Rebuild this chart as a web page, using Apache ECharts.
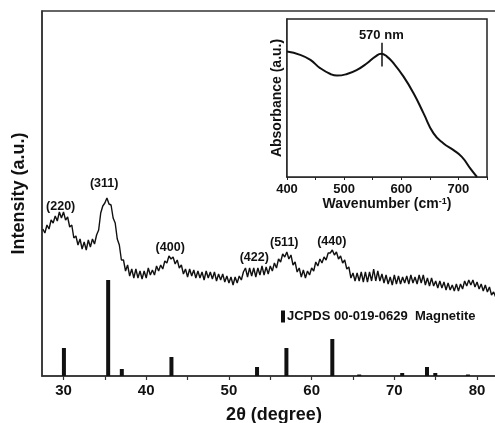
<!DOCTYPE html>
<html>
<head>
<meta charset="utf-8">
<script src="https://cdn.jsdelivr.net/npm/echarts@6/dist/echarts.min.js"></script>
<style>
html, body { margin: 0; padding: 0; background: #fff; }
#chart { width: 495px; height: 423px; }
</style>
</head>
<body>
<div id="chart"></div>
<script>
// XRD pattern, sampled every 0.25 degree from 27.5
var xrdStart = 27.5;
var xrdStep = 0.25;
var xrdIntensity = [
    147, 143,
    151, 147, 156, 153,   160, 155, 164, 158,   164, 156, 159, 149,   151, 138, 140, 131,
    137, 127, 134, 126,   136, 129, 137, 132,   141, 146, 163, 170,   173, 178, 172, 171,
    158, 153, 137, 131,   116, 116, 105, 111,   100, 107, 98, 107,    98, 105, 97, 105,
    98, 108, 101, 106,    101, 110, 105, 111,   107, 115, 113, 120,   117, 119, 112, 116,
    108, 111, 102, 107,   99, 107, 100, 106,    98, 105, 98, 104,     96, 105, 98, 104,
    97, 104, 95, 102,     96, 102, 94, 100,     93, 99, 91, 99,       93, 100, 96, 104,
    108, 99, 108, 100,    108, 99, 108, 101,    110, 101, 109, 102,   110, 105, 113, 108,
    117, 114, 122, 119,   124, 117, 121, 111,   114, 104, 108, 99,    106, 98, 105, 101,
    108, 105, 114, 110,   117, 113, 119, 116,   123, 123, 126, 121,   124, 117, 120, 113,
    116, 107, 109, 98,    103, 95, 103, 95,     104, 94, 104, 94,     104, 95, 107, 95,
    105, 95, 102, 93,     101, 92, 99, 91,      101, 92, 100, 92,     99, 93, 100, 92,
    101, 93, 99, 92,      101, 93, 101, 91,     98, 90, 98, 90,       95, 88, 95, 88,
    94, 86, 93, 86,       91, 85, 92, 85,       92, 87, 95, 90,       96, 91, 96, 89,
    94, 87, 92, 85,       91, 84, 89, 81,
    84, 79
];

// JCPDS 00-019-0629 reference lines
var refAngle = [30.05, 35.4, 37.05, 43.05, 53.4, 56.95, 62.5, 65.75, 70.95, 73.95, 74.95, 78.9];
var refHeight = [28, 96, 7, 19, 9, 28, 37, 1.5, 3, 9, 3, 1.5];

// peak labels
var peakNames = ['(220)', '(311)', '(400)', '(422)', '(511)', '(440)'];
var peakAngle = [29.66, 34.92, 42.9, 53.06, 56.69, 62.43];
var peakLevel = [169, 192, 128, 118, 133, 134];

var xTickLabels = [30, 40, 50, 60, 70, 80];
var xTickMarks = [30, 35, 40, 45, 50, 55, 60, 65, 70, 75, 80];

// inset UV-vis absorbance
var uvWave = [400, 423, 441, 458, 476, 487.5, 505, 522.5, 540, 554.5, 565, 575, 586.5, 604, 621.5, 639, 656.5, 674, 691.5, 706, 721, 732.5];
var uvAbs = [0.794, 0.773, 0.741, 0.689, 0.652, 0.642, 0.652, 0.678, 0.720, 0.762, 0.780, 0.762, 0.720, 0.635, 0.530, 0.403, 0.276, 0.212, 0.170, 0.127, 0.053, 0.0];
var uvMark = 565;

var font = '"Liberation Sans", Arial, sans-serif';
var ink = '#111';

var xrdData = [];
for (var i = 0; i < xrdIntensity.length; i++) {
    xrdData.push([xrdStart + i * xrdStep, xrdIntensity[i]]);
}
var refData = refAngle.map(function (a, i) { return [a, refHeight[i]]; });
var peakData = peakNames.map(function (n, i) { return { value: [peakAngle[i], peakLevel[i]], name: n }; });
var uvData = uvWave.map(function (w, i) { return [w, uvAbs[i]]; });

var myChart = echarts.init(document.getElementById('chart'));
var option = {
    animation: false,
    backgroundColor: '#fff',
    textStyle: { fontFamily: font },
    legend: {
        data: ['JCPDS 00-019-0629  Magnetite'],
        left: 281,
        top: 310,
        padding: 0,
        icon: 'rect',
        itemWidth: 4,
        itemHeight: 12,
        itemGap: 0,
        textStyle: { fontFamily: font, fontSize: 13, fontWeight: 'bold', color: ink, padding: [0, 0, 0, -3] }
    },
    grid: [
        { left: 42, top: 11, width: 464, height: 365, show: true, borderColor: '#333', borderWidth: 1.5, outerBoundsMode: 'none' },
        { left: 287, top: 19, width: 200, height: 158, show: true, borderColor: '#222', borderWidth: 1.5, backgroundColor: '#fff', z: 5, outerBoundsMode: 'none' }
    ],
    xAxis: [
        {
            type: 'value', gridIndex: 0, min: 27.4, max: 83.5,
            splitLine: { show: false },
            axisLine: { lineStyle: { color: '#333', width: 1.5 } },
            axisTick: { customValues: xTickMarks, length: 4, lineStyle: { color: '#333', width: 1.2 } },
            axisLabel: { customValues: xTickLabels, fontSize: 15, fontWeight: 'bold', color: ink, margin: 7, fontFamily: font },
            name: '2θ (degree)', nameLocation: 'middle', nameGap: 30,
            nameTextStyle: { fontSize: 18, fontWeight: 'bold', color: ink, fontFamily: font }
        },
        {
            type: 'value', gridIndex: 1, min: 400, max: 750, interval: 50,
            splitLine: { show: false },
            axisLine: { lineStyle: { color: '#222', width: 1.5 } },
            axisTick: { length: 3, lineStyle: { color: '#222' } },
            axisLabel: {
                fontSize: 13, fontWeight: 'bold', color: ink, margin: 6, fontFamily: font,
                formatter: function (v) { return v % 100 === 0 && v < 750 ? String(v) : ''; }
            },
            name: '{b|Wavenumber (cm}{s|-1}{b|)}', nameLocation: 'middle', nameGap: 20,
            nameTextStyle: {
                rich: {
                    b: { fontSize: 14, fontWeight: 'bold', color: ink, fontFamily: font },
                    s: { fontSize: 9, fontWeight: 'bold', color: ink, fontFamily: font, verticalAlign: 'top', padding: [0, 0, 6, 0] }
                }
            }
        }
    ],
    yAxis: [
        {
            type: 'value', gridIndex: 0, min: 0, max: 365,
            splitLine: { show: false },
            axisLine: { show: true, lineStyle: { color: '#333', width: 1.5 } },
            axisTick: { show: false },
            axisLabel: { show: false },
            name: 'Intensity (a.u.)', nameLocation: 'middle', nameGap: 14,
            nameTextStyle: { fontSize: 18, fontWeight: 'bold', color: ink, fontFamily: font }
        },
        {
            type: 'value', gridIndex: 1, min: 0, max: 1,
            splitLine: { show: false },
            axisLine: { show: true, lineStyle: { color: '#222', width: 1.5 } },
            axisTick: { show: false },
            axisLabel: { show: false },
            name: 'Absorbance (a.u.)', nameLocation: 'middle', nameGap: 3,
            nameTextStyle: { fontSize: 14, fontWeight: 'bold', color: ink, fontFamily: font }
        }
    ],
    series: [
        {
            name: 'XRD', type: 'line', xAxisIndex: 0, yAxisIndex: 0,
            data: xrdData, showSymbol: false, symbol: 'none',
            lineStyle: { color: ink, width: 1.4 }
        },
        {
            name: 'JCPDS 00-019-0629  Magnetite', type: 'bar', xAxisIndex: 0, yAxisIndex: 0,
            data: refData, barWidth: 4,
            itemStyle: { color: ink }
        },
        {
            name: 'peaks', type: 'scatter', xAxisIndex: 0, yAxisIndex: 0,
            data: peakData, symbolSize: 0,
            itemStyle: { opacity: 1 },
            label: {
                show: true, position: 'inside', formatter: '{b}',
                fontSize: 12.5, fontWeight: 'bold', color: ink, fontFamily: font, opacity: 1
            }
        },
        {
            name: 'UV', type: 'line', xAxisIndex: 1, yAxisIndex: 1,
            data: uvData, smooth: true, showSymbol: false, symbol: 'none', z: 6,
            lineStyle: { color: ink, width: 2 },
            markLine: {
                silent: true, symbol: 'none',
                lineStyle: { color: ink, width: 1.5, type: 'solid' },
                label: { show: true, position: 'end', formatter: '570 nm', fontSize: 13, fontWeight: 'bold', color: ink, fontFamily: font, distance: 1 },
                data: [[{ coord: [uvMark, 0.70] }, { coord: [uvMark, 0.85] }]]
            }
        }
    ]
};
myChart.setOption(option);
</script>
</body>
</html>
